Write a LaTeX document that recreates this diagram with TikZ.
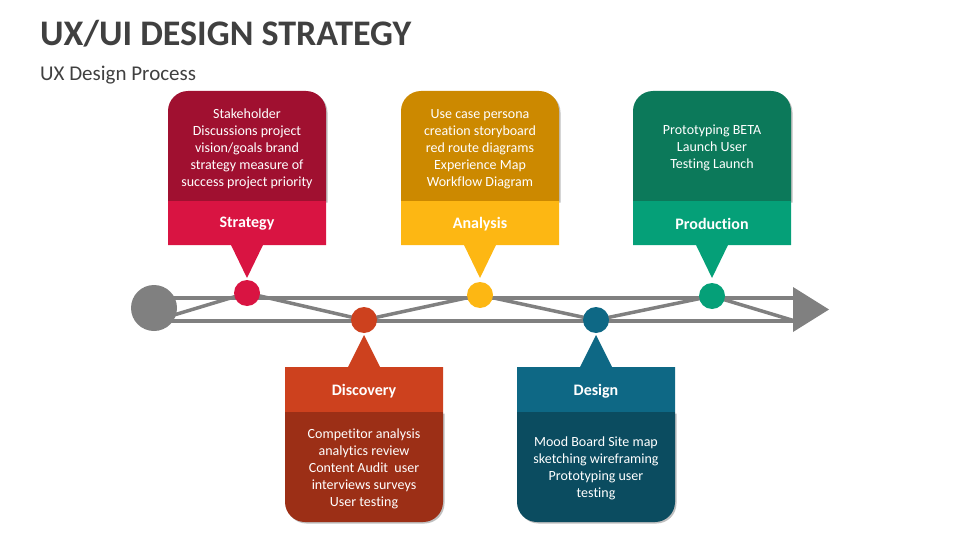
\documentclass[tikz,border=0pt]{standalone}
\usepackage{fontspec}
\setmainfont{Carlito}[Ligatures=NoCommon]
\usetikzlibrary{shadows}
\definecolor{titlegray}{HTML}{404040}
\definecolor{railgray}{HTML}{808080}
\definecolor{stratD}{HTML}{A01030}
\definecolor{stratL}{HTML}{D91442}
\definecolor{discL}{HTML}{CD411E}
\definecolor{discD}{HTML}{9C2F16}
\definecolor{anaD}{HTML}{CC8900}
\definecolor{anaL}{HTML}{FDB713}
\definecolor{desL}{HTML}{0E6885}
\definecolor{desD}{HTML}{0B4C60}
\definecolor{prodD}{HTML}{0C795A}
\definecolor{prodL}{HTML}{05A078}

\begin{document}
\begin{tikzpicture}[x=1pt,y=-1pt,
    rail/.style={draw=railgray,line width=4pt},
    tie/.style={draw=railgray,line width=3.5pt,line join=round},
    dot/.style={circle,minimum size=26pt,inner sep=0pt},
    tag/.style={text=white,font=\fontsize{16}{19}\selectfont\bfseries},
    body/.style={text=white,align=center,font=\fontsize{14}{17}\selectfont},
    cardshadow/.style={drop shadow={shadow xshift=1.5pt,shadow yshift=-1.5pt,opacity=0.25,fill=black}}]
    \useasboundingbox (0,0) rectangle (960,540);

    % heading
    \node[anchor=base west,inner sep=0pt,text=titlegray,font=\fontsize{36}{40}\selectfont\bfseries] (title) at (40,46) {UX/UI DESIGN STRATEGY};
    \node[anchor=base west,inner sep=0pt,text=titlegray,font=\fontsize{21}{25}\selectfont] (subtitle) at (40,81) {UX Design Process};

    % top cards
    \fill[stratD,cardshadow] (168,201) [rounded corners=20pt] -- (168,91) -- (326,91) [sharp corners] -- (326,201) -- cycle;
    \fill[stratL] (168,201) -- (326,201) -- (326,245) -- (263,245) -- (247,278) -- (231,245) -- (168,245) -- cycle;
    \node[body] (stratTxt) at (247,149) {Stakeholder\\Discussions project\\vision/goals brand\\strategy measure of\\success project priority};
    \node[tag] (strat) at (247,224) {Strategy};

    \fill[anaD,cardshadow] (401,201) [rounded corners=20pt] -- (401,91) -- (559,91) [sharp corners] -- (559,201) -- cycle;
    \fill[anaL] (401,201) -- (559,201) -- (559,245) -- (496,245) -- (480,278) -- (464,245) -- (401,245) -- cycle;
    \node[body] (anaTxt) at (480,149) {Use case persona\\creation storyboard\\red route diagrams\\Experience Map\\Workflow Diagram};
    \node[tag] (ana) at (480,224) {Analysis};

    \fill[prodD,cardshadow] (633,201) [rounded corners=20pt] -- (633,91) -- (791,91) [sharp corners] -- (791,201) -- cycle;
    \fill[prodL] (633,201) -- (791,201) -- (791,245) -- (728,245) -- (712,278) -- (696,245) -- (633,245) -- cycle;
    \node[body] (prodTxt) at (712,148) {Prototyping BETA\\Launch User\\Testing Launch};
    \node[tag] (prod) at (712,224) {Production};

    % bottom cards
    \fill[discL] (285,412) -- (285,367) -- (348,367) -- (364,335) -- (380,367) -- (443,367) -- (443,412) -- cycle;
    \fill[discD,cardshadow] (285,412) [rounded corners=20pt] -- (285,522) -- (443,522) [sharp corners] -- (443,412) -- cycle;
    \node[tag] (disc) at (364,391) {Discovery};
    \node[body] (discTxt) at (364,469) {Competitor analysis\\analytics review\\Content Audit\ \ user\\interviews surveys\\User testing};

    \fill[desL] (517,412) -- (517,367) -- (580,367) -- (596,335) -- (612,367) -- (675,367) -- (675,412) -- cycle;
    \fill[desD,cardshadow] (517,412) [rounded corners=20pt] -- (517,522) -- (675,522) [sharp corners] -- (675,412) -- cycle;
    \node[tag] (des) at (596,391) {Design};
    \node[body] (desTxt) at (596,468) {Mood Board Site map\\sketching wireframing\\Prototyping user\\testing};

    % timeline
    \coordinate (railAs) at (154,298);
    \coordinate (railAe) at (795,298);
    \coordinate (railBs) at (154,321);
    \coordinate (railBe) at (795,321);
    \coordinate (p1) at (247,293);
    \coordinate (p2) at (364,320);
    \coordinate (p3) at (480,295);
    \coordinate (p4) at (596,320);
    \coordinate (p5) at (712,296);
    \draw[rail] (railAs) -- (railAe);
    \draw[rail] (railBs) -- (railBe);
    \draw[tie] (railBs) -- (p1) -- (p2) -- (p3) -- (p4) -- (p5) -- (railBe);
    \fill[railgray] (793,287) -- (829,309.5) -- (793,332) -- cycle;

    \node[dot,fill=railgray,minimum size=46pt] (start) at (154,308) {};
    \node[dot,fill=stratL] (m1) at (p1) {};
    \node[dot,fill=discL] (m2) at (p2) {};
    \node[dot,fill=anaL] (m3) at (p3) {};
    \node[dot,fill=desL] (m4) at (p4) {};
    \node[dot,fill=prodL] (m5) at (p5) {};
\end{tikzpicture}
\end{document}
